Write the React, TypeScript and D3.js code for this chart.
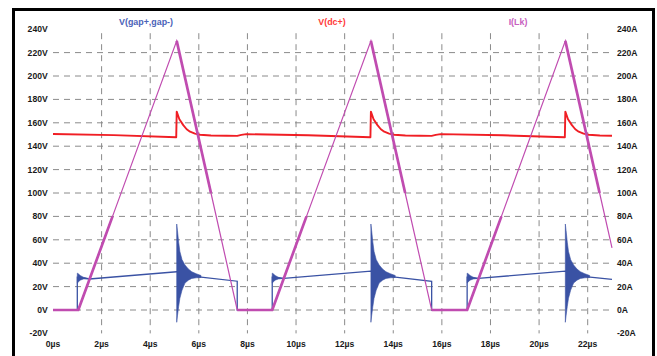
import React from 'react';
import * as d3 from 'd3';

// ---- data ----
const voltTicks = [-20, 0, 20, 40, 60, 80, 100, 120, 140, 160, 180, 200, 220, 240];
const timeTicks = [0, 2, 4, 6, 8, 10, 12, 14, 16, 18, 20, 22];

// I(Lk) triangle current, A
const ilkT = [0, 1.04, 2.45, 5.09, 6.5, 7.58, 9.02, 10.43, 13.08, 14.49, 15.58, 17.04, 18.45, 21.08, 22.49, 23.0];
const ilkV = [0, 0, 80, 230, 100, 0, 0, 80, 230, 100, 0, 0, 80, 230, 100, 53];
// index ranges of the segments drawn heavier in the original
const ilkHeavy = [[0, 2], [3, 4], [5, 7], [8, 9], [10, 12], [13, 14]];

// V(dc+), V
const vdcT = [0, 2.5, 5.07, 5.09, 5.2, 5.36, 5.5, 5.64, 5.84, 6.05, 6.5, 7.15, 7.58, 7.75, 7.95, 10.5, 13.06,
  13.08, 13.19, 13.35, 13.49, 13.63, 13.83, 14.04, 14.5, 15.1, 15.58, 15.75, 15.95, 18.5, 21.06,
  21.08, 21.19, 21.35, 21.49, 21.63, 21.83, 22.04, 22.5, 23.0];
const vdcV = [150.4, 149.5, 147.6, 169.5, 163, 158, 154.5, 152.4, 150.7, 149.8, 149.2, 148.9, 148.8, 149.7, 150.3, 149.3, 147.6,
  169.5, 163, 158, 154.5, 152.4, 150.7, 149.8, 149.2, 148.9, 148.8, 149.7, 150.3, 149.3, 147.6,
  169.5, 163, 158, 154.5, 152.4, 150.7, 149.8, 149.2, 148.9];

// V(gap+,gap-), V - mean trace
const gapT = [0, 1.0, 1.0, 1.5, 5.09, 6.0, 7.58, 7.58, 9.02, 9.02, 9.5, 13.08, 14.0, 15.58, 15.58, 17.04, 17.04, 17.5, 21.08, 22.0, 23.0];
const gapV = [0, 0, 28, 26.5, 32.7, 28.3, 24.6, 0, 0, 28, 27, 33.2, 28.3, 24.4, 0, 0, 28, 27, 33.2, 28.3, 26.2];

// ringing envelopes (time after event, upper / lower), V
const ringStarts = [1.0, 9.02, 17.04];
const ringDt = [0, 0.04, 0.12, 0.25, 0.45];
const ringHi = [31.5, 31, 29.5, 28, 27];
const ringLo = [23, 24, 25.5, 26.5, 27];

const burstStarts = [5.09, 13.08, 21.08];
const burstDt = [0, 0.03, 0.08, 0.13, 0.22, 0.34, 0.48, 0.62, 0.8, 1.0];
const burstHi = [73.5, 68, 58, 50, 43, 38.5, 35, 32.7, 31, 29.5];
const burstLo = [-10.5, -5, 3, 10, 17, 23, 25.5, 27, 27.5, 27.8];

const BLUE = '#3a52a4';
const RED = '#f01e24';
const MAG = '#c04cb0';
const FONT = '"Liberation Sans", Arial, sans-serif';

export default function App() {
  const W = 657;
  const H = 356;
  const x = d3.scaleLinear().domain([0, 23]).range([53, 612]);
  const y = d3.scaleLinear().domain([-20, 240]).range([333.4, 29.2]);

  const line = d3.line<[number, number]>().x(d => x(d[0])).y(d => y(d[1]));
  const zip = (t: number[], v: number[]) => t.map((tt, i) => [tt, v[i]] as [number, number]);

  // filled band standing in for the dense ringing
  const envelopePath = (t0: number, dt: number[], hi: number[], lo: number[]) => {
    const a = d3.area<number>()
      .x(d => x(t0 + d))
      .y0((_, i) => y(lo[i]))
      .y1((_, i) => y(hi[i]));
    return a(dt) || '';
  };

  const ilk = zip(ilkT, ilkV);
  const gridStyle = { stroke: '#8a8a8a', strokeWidth: 1, strokeDasharray: '6,5', fill: 'none' };
  const labelStyle = { fontFamily: FONT, fontWeight: 700, fontSize: 8.6, fill: '#1a1a1a' };

  return (
    <svg width={W} height={H} style={{ position: 'absolute', left: 0, top: 0, background: '#fff' }}>
      <rect x={0} y={0} width={W} height={H} fill="#fff" />
      {/* grid */}
      {voltTicks.filter(v => v >= 0 && v <= 220).map(v => (
        <line key={'h' + v} x1={x(0)} x2={x(23)} y1={y(v)} y2={y(v)} style={gridStyle} />
      ))}
      {timeTicks.filter(t => t > 0).map(t => (
        <line key={'v' + t} x1={x(t)} x2={x(t)} y1={y(240) + 4} y2={y(-20)} style={gridStyle} />
      ))}

      {/* tick labels */}
      {voltTicks.map(v => (
        <text key={'l' + v} x={47.7} y={y(v)} dy="0.35em" textAnchor="end" style={labelStyle}>{v}V</text>
      ))}
      {voltTicks.map(v => (
        <text key={'r' + v} x={617} y={y(v)} dy="0.35em" textAnchor="start" style={labelStyle}>{v}A</text>
      ))}
      {timeTicks.map(t => (
        <text key={'b' + t} x={x(t)} y={346.5} textAnchor="middle" style={labelStyle}>{t}µs</text>
      ))}

      {/* trace titles */}
      <text x={146} y={25} textAnchor="middle" style={{ ...labelStyle, fontSize: 8.9, fill: '#4a62b8' }}>V(gap+,gap-)</text>
      <text x={332} y={25} textAnchor="middle" style={{ ...labelStyle, fontSize: 8.9, fill: '#ff3a3a' }}>V(dc+)</text>
      <text x={518} y={25} textAnchor="middle" style={{ ...labelStyle, fontSize: 8.9, fill: '#c860c0' }}>I(Lk)</text>

      {/* V(gap+,gap-) */}
      <path d={line(zip(gapT, gapV)) || ''} fill="none" stroke={BLUE} strokeWidth={1.3} />
      {ringStarts.map(t0 => (
        <path key={'rg' + t0} d={envelopePath(t0, ringDt, ringHi, ringLo)} fill={BLUE} stroke={BLUE} strokeWidth={0.6} />
      ))}
      {burstStarts.map(t0 => (
        <path key={'bs' + t0} d={envelopePath(t0, burstDt, burstHi, burstLo)} fill={BLUE} stroke={BLUE} strokeWidth={0.6} />
      ))}

      {/* V(dc+) */}
      <path d={line(zip(vdcT, vdcV)) || ''} fill="none" stroke={RED} strokeWidth={1.9} strokeLinejoin="round" />

      {/* I(Lk) */}
      <path d={line(ilk) || ''} fill="none" stroke={MAG} strokeWidth={1.2} />
      {ilkHeavy.map(([a, b]) => (
        <path key={'ih' + a} d={line(ilk.slice(a, b + 1)) || ''} fill="none" stroke={MAG} strokeWidth={2.7} strokeLinejoin="round" />
      ))}

      {/* frame */}
      <rect x={13.5} y={9.5} width={640} height={360} fill="none" stroke="#000" strokeWidth={3} />
    </svg>
  );
}
